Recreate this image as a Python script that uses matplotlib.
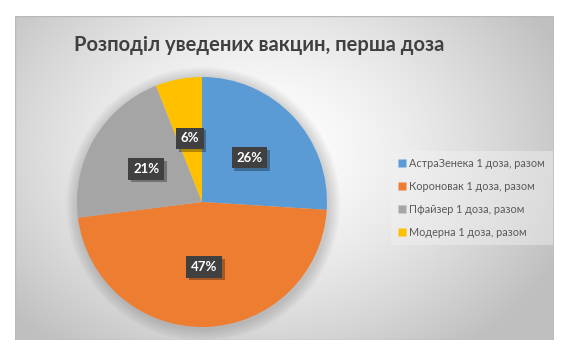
import numpy as np
import matplotlib
matplotlib.use("Agg")
import matplotlib.pyplot as plt
import matplotlib.patheffects as pe
from matplotlib.patches import Rectangle, Circle
from matplotlib.lines import Line2D

categories = ["АстраЗенека 1 доза, разом", "Короновак 1 доза, разом",
              "Пфайзер 1 доза, разом", "Модерна 1 доза, разом"]
values = [26, 47, 21, 6]
colors = ["#5B9BD5", "#ED7D31", "#A5A5A5", "#FFC000"]
title = "Розподіл уведених вакцин, перша доза"

W, H = 575, 355
fig = plt.figure(figsize=(W / 100, H / 100), dpi=100)
fig.patch.set_facecolor("white")

# background box with radial gradient
bx0, by0, bx1, by1 = 15, 16, 554, 340
bg = fig.add_axes([bx0 / W, 1 - by1 / H, (bx1 - bx0) / W, (by1 - by0) / H])
bg.set_axis_off()
yy, xx = np.mgrid[by0:by1, bx0:bx1]
cx, cy = 260, 150
d = np.sqrt(((xx - cx) / 330.0) ** 2 + ((yy - cy) / 250.0) ** 2)
d = np.clip(d, 0, 1)
v = 1.0 - 0.25 * d ** 1.5
img = np.dstack([v, v, v])
bg.imshow(img, extent=[0, 1, 0, 1], aspect="auto", origin="upper")
bg.add_patch(Rectangle((0, 0), 1, 1, transform=bg.transAxes, fill=False,
                       ec="#b8b8b8", lw=1.0))
bg.set_xlim(0, 1)
bg.set_ylim(0, 1)

# pie
pcx, pcy, r = 202, 202, 125
ax = fig.add_axes([(pcx - r * 1.1) / W, 1 - (pcy + r * 1.1) / H, 2.2 * r / W, 2.2 * r / H])
ax.set_axis_off()
# soft shadow
for k in range(8):
    ax.add_patch(Circle((0.01, -0.015), 1.0 + 0.012 * (k + 1), fc="#000000",
                        ec="none", alpha=0.018, zorder=0))
wedges, texts = ax.pie(values, colors=colors, startangle=90, counterclock=False,
                       radius=1.0, wedgeprops=dict(linewidth=0))
for w in wedges:
    w.set_zorder(2)
total = sum(values)
ang = 90.0
for v_, w in zip(values, wedges):
    mid = np.deg2rad(ang - v_ / total * 360 / 2)
    ang -= v_ / total * 360
    x, y = 0.52 * np.cos(mid), 0.52 * np.sin(mid)
    t = ax.text(x, y, f"{v_}%", ha="center", va="center", fontsize=9.5,
                fontweight="bold", color="white", family="Lato",
                bbox=dict(boxstyle="square,pad=0.35", fc="#404040", ec="none"),
                zorder=4)
    t.get_bbox_patch().set_path_effects([
        pe.SimplePatchShadow(offset=(2, -2), shadow_rgbFace="black", alpha=0.3),
        pe.Normal()])
ax.set_xlim(-1.1, 1.1)
ax.set_ylim(-1.1, 1.1)
ax.set_position([(pcx - r * 1.1) / W, 1 - (pcy + r * 1.1) / H, 2.2 * r / W, 2.2 * r / H])

# title
fig.text(259 / W, 1 - 45 / H, title, ha="center", va="center", fontsize=14.5,
         fontweight="bold", color="#404040", family="Lato")

# legend
handles = [Line2D([0], [0], marker="s", ls="none", markersize=5.5,
                  markerfacecolor=c, markeredgecolor="none") for c in colors]
leg = fig.legend(handles, categories, loc="center left",
                 bbox_to_anchor=(386 / W, 1 - 198 / H), frameon=True,
                 prop=dict(family="Lato", size=7.8), labelcolor="#595959",
                 handlelength=0.6, handletextpad=0.35, labelspacing=1.1,
                 borderpad=0.7, fancybox=False)
leg.get_frame().set_facecolor("#f2f2f2")
leg.get_frame().set_alpha(0.45)
leg.get_frame().set_edgecolor("none")

fig.savefig("out.png", dpi=100)
